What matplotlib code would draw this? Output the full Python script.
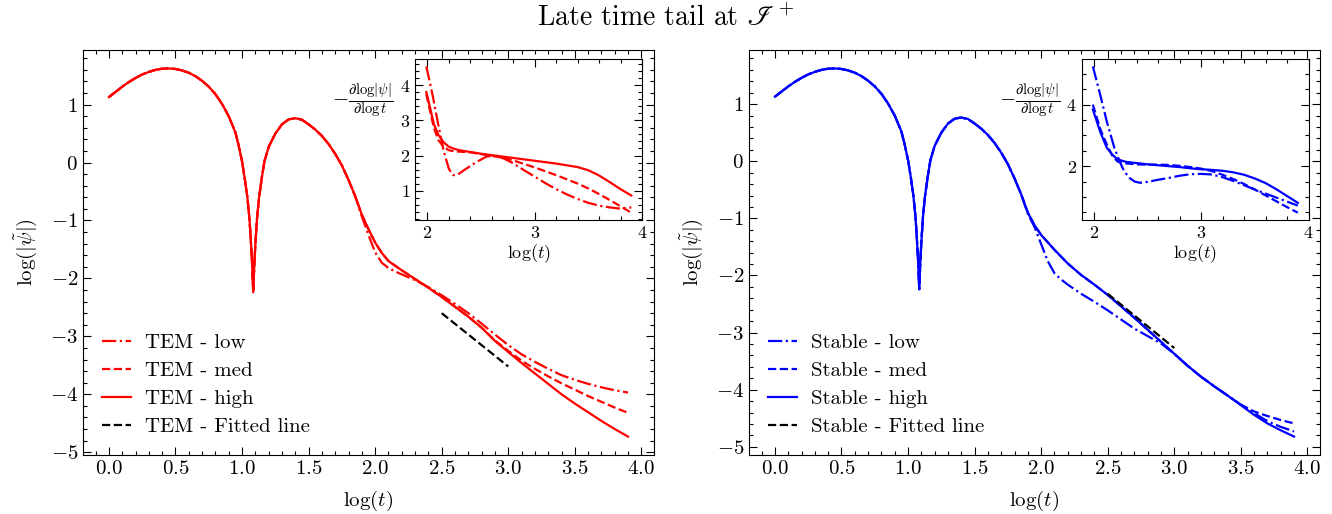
import matplotlib
matplotlib.use("Agg")
import matplotlib.pyplot as plt
from matplotlib.ticker import AutoMinorLocator, MultipleLocator

plt.rcParams['font.family'] = 'serif'
plt.rcParams['font.serif'] = ['cmr10', 'DejaVu Serif']
plt.rcParams['mathtext.fontset'] = 'cm'
plt.rcParams['axes.formatter.use_mathtext'] = True
plt.rcParams['axes.unicode_minus'] = True

#%% data: log|psi| at scri+, shared early part (all resolutions overlap)
early_logt = [0.00, 0.05, 0.10, 0.15, 0.20, 0.25, 0.30, 0.35, 0.40, 0.45, 0.50,
              0.55, 0.60, 0.65, 0.70, 0.75, 0.80, 0.85, 0.90, 0.95, 0.975, 1.00,
              1.02, 1.04, 1.055, 1.065, 1.075, 1.084, 1.093, 1.103, 1.113, 1.128,
              1.148, 1.168, 1.20, 1.25, 1.30, 1.35, 1.40, 1.45, 1.50, 1.55, 1.60,
              1.65, 1.70, 1.75, 1.80, 1.85]
early_val = [1.13, 1.22, 1.31, 1.39, 1.46, 1.52, 1.565, 1.60, 1.62, 1.625, 1.615,
             1.59, 1.55, 1.49, 1.41, 1.31, 1.18, 1.01, 0.80, 0.52, 0.29, 0.02,
             -0.27, -0.60, -0.95, -1.30, -1.72, -2.24, -1.72, -1.30, -0.95, -0.60,
             -0.27, 0.02, 0.27, 0.50, 0.66, 0.745, 0.765,
             0.74, 0.66, 0.57, 0.46, 0.32, 0.15, -0.05, -0.30, -0.58]

tail_logt = [1.90, 1.95, 2.00, 2.05, 2.10, 2.15, 2.20, 2.30, 2.40, 2.50, 2.60, 2.70,
             2.80, 2.90, 3.00, 3.10, 3.20, 3.30, 3.40, 3.50, 3.60, 3.70, 3.80, 3.90]

tem_low = [-0.93, -1.25, -1.55, -1.73, -1.82, -1.88, -1.93, -2.03, -2.15, -2.29, -2.44, -2.60,
           -2.78, -2.97, -3.15, -3.31, -3.44, -3.56, -3.67, -3.75, -3.82, -3.88, -3.93, -3.97]
tem_med = [-0.90, -1.15, -1.38, -1.56, -1.70, -1.78, -1.86, -2.01, -2.16, -2.32, -2.49, -2.66,
           -2.85, -3.07, -3.25, -3.42, -3.56, -3.69, -3.81, -3.92, -4.03, -4.13, -4.23, -4.32]
tem_high = [-0.90, -1.15, -1.38, -1.56, -1.70, -1.78, -1.86, -2.01, -2.16, -2.32, -2.49, -2.66,
            -2.85, -3.08, -3.27, -3.46, -3.64, -3.82, -4.00, -4.16, -4.31, -4.46, -4.60, -4.73]

stable_low = [-0.92, -1.15, -1.45, -1.75, -1.96, -2.07, -2.16, -2.32, -2.46, -2.61, -2.77, -2.93,
              -3.06, -3.19, -3.37, -3.58, -3.77, -3.94, -4.10, -4.26, -4.41, -4.55, -4.65, -4.73]
stable_med = [-0.90, -1.12, -1.29, -1.42, -1.55, -1.67, -1.79, -1.99, -2.16, -2.34, -2.54, -2.74,
              -2.95, -3.16, -3.37, -3.58, -3.77, -3.94, -4.10, -4.26, -4.38, -4.46, -4.53, -4.59]
stable_high = [-0.90, -1.12, -1.29, -1.42, -1.55, -1.67, -1.79, -1.99, -2.16, -2.34, -2.54, -2.74,
               -2.95, -3.16, -3.37, -3.58, -3.77, -3.94, -4.10, -4.27, -4.44, -4.59, -4.71, -4.82]

fit_logt = [2.5, 3.0]
tem_fit = [-2.60, -3.52]
stable_fit = [-2.32, -3.27]

#%% data: insets, -dlog|psi|/dlog t
tem_low_dx = [1.99, 2.05, 2.10, 2.15, 2.20, 2.24, 2.28, 2.35, 2.45, 2.55, 2.62, 2.70, 2.80,
              2.90, 3.00, 3.10, 3.20, 3.30, 3.40, 3.50, 3.60, 3.70, 3.78, 3.85, 3.90]
tem_low_d = [4.54, 3.70, 2.90, 2.15, 1.62, 1.44, 1.45, 1.60, 1.80, 1.97, 1.99, 1.93, 1.78,
             1.58, 1.40, 1.21, 1.04, 0.89, 0.76, 0.65, 0.57, 0.52, 0.49, 0.50, 0.52]
tem_med_dx = [1.99, 2.03, 2.06, 2.10, 2.15, 2.20, 2.25, 2.30, 2.40, 2.50, 2.60, 2.70, 2.80,
              2.90, 3.00, 3.10, 3.20, 3.30, 3.40, 3.50, 3.60, 3.70, 3.80, 3.90]
tem_med_d = [3.75, 3.20, 2.80, 2.45, 2.25, 2.15, 2.12, 2.11, 2.09, 2.04, 1.99, 1.94, 1.86,
             1.76, 1.66, 1.55, 1.44, 1.32, 1.20, 1.06, 0.90, 0.73, 0.55, 0.37]
tem_high_dx = [1.99, 2.03, 2.06, 2.10, 2.15, 2.20, 2.25, 2.30, 2.40, 2.50, 2.60, 2.80, 3.00,
               3.20, 3.40, 3.50, 3.60, 3.70, 3.80, 3.90]
tem_high_d = [3.81, 3.30, 2.90, 2.60, 2.38, 2.25, 2.19, 2.15, 2.10, 2.05, 2.01, 1.93, 1.85,
              1.77, 1.67, 1.58, 1.43, 1.24, 1.04, 0.86]

stable_low_dx = [1.99, 2.06, 2.12, 2.19, 2.24, 2.28, 2.33, 2.38, 2.43, 2.50, 2.60, 2.70, 2.80,
                 2.90, 3.00, 3.10, 3.20, 3.30, 3.40, 3.50, 3.60, 3.70, 3.80, 3.90]
stable_low_d = [5.24, 4.30, 3.45, 2.60, 2.15, 1.85, 1.62, 1.50, 1.46, 1.49, 1.56, 1.62, 1.69,
                1.74, 1.75, 1.73, 1.64, 1.52, 1.38, 1.24, 1.11, 0.98, 0.85, 0.72]
stable_dx = [1.99, 2.06, 2.12, 2.17, 2.22, 2.30, 2.40, 2.50, 2.60, 2.70, 2.80, 2.90, 3.00,
             3.10, 3.20, 3.30, 3.40, 3.50, 3.60, 3.70, 3.80, 3.90]
stable_med_d = [4.00, 3.20, 2.70, 2.35, 2.15, 2.09, 2.06, 2.05, 2.05, 2.04, 2.01, 1.97, 1.92,
                1.84, 1.72, 1.58, 1.42, 1.24, 1.05, 0.86, 0.67, 0.49]
stable_high_d = [3.84, 3.10, 2.60, 2.38, 2.22, 2.14, 2.10, 2.06, 2.03, 2.00, 1.97, 1.93, 1.90,
                 1.88, 1.85, 1.80, 1.72, 1.60, 1.45, 1.25, 1.03, 0.81]


def style_axis(ax, size):
    ax.tick_params(which='both', direction='in', top=True, right=True, labelsize=size)
    ax.tick_params(which='major', length=6, width=0.8)
    ax.tick_params(which='minor', length=3, width=0.8)
    ax.xaxis.set_minor_locator(AutoMinorLocator())
    ax.yaxis.set_minor_locator(AutoMinorLocator())
    for s in ax.spines.values():
        s.set_linewidth(0.8)


fig = plt.figure(figsize=(13.32, 5.14), dpi=100)
ax_l = fig.add_axes([0.0623, 0.1148, 0.4287, 0.7879])
ax_r = fig.add_axes([0.5623, 0.1148, 0.4287, 0.7879])
in_l = fig.add_axes([0.3116, 0.572, 0.1704, 0.313])
in_r = fig.add_axes([0.8120, 0.572, 0.1704, 0.313])

panels = [
    (ax_l, in_l, 'red', 'TEM', [tem_low, tem_med, tem_high], tem_fit,
     [(tem_low_dx, tem_low_d), (tem_med_dx, tem_med_d), (tem_high_dx, tem_high_d)], 1),
    (ax_r, in_r, 'blue', 'Stable', [stable_low, stable_med, stable_high], stable_fit,
     [(stable_low_dx, stable_low_d), (stable_dx, stable_med_d), (stable_dx, stable_high_d)], 2),
]
styles = ['-.', '--', '-']
names = ['low', 'med', 'high']

for ax, ins, col, name, tails, fit, derivs, ystep in panels:
    for tail, ls, res in zip(tails, styles, names):
        ax.plot(early_logt + tail_logt, early_val + tail, color=col, ls=ls, lw=1.6,
                label=f'{name} - {res}')
    ax.plot(fit_logt, fit, color='black', ls='--', lw=1.6, label=f'{name} - Fitted line')
    ax.set_xlabel(r'$\log(t)$', fontsize=15, labelpad=8)
    ax.set_ylabel(r'$\log(|\tilde{\psi}|)$', fontsize=15, labelpad=8)
    ax.xaxis.set_major_locator(MultipleLocator(0.5))
    style_axis(ax, 15)
    ax.legend(loc='lower left', frameon=False, fontsize=15, handlelength=1.4,
              handletextpad=0.7, labelspacing=0.45, bbox_to_anchor=(0.0, 0.0))

    for (dx, d), ls in zip(derivs, styles):
        ins.plot(dx, d, color=col, ls=ls, lw=1.6)
    ins.set_xlim(1.885, 4.0)
    ins.set_xlabel(r'$\log(t)$', fontsize=13, labelpad=1)
    ins.set_ylabel(r'$-\frac{\partial \log|\psi|}{\partial \log t}$', fontsize=15,
                   rotation=0, ha='center', va='center')
    ins.yaxis.set_label_coords(-0.23, 0.74)
    ins.xaxis.set_major_locator(MultipleLocator(1))
    ins.yaxis.set_major_locator(MultipleLocator(ystep))
    style_axis(ins, 13)

fig.suptitle(r'Late time tail at $\mathscr{I}^+$', fontsize=20, y=0.99)
fig.savefig('out.png', dpi=100)
